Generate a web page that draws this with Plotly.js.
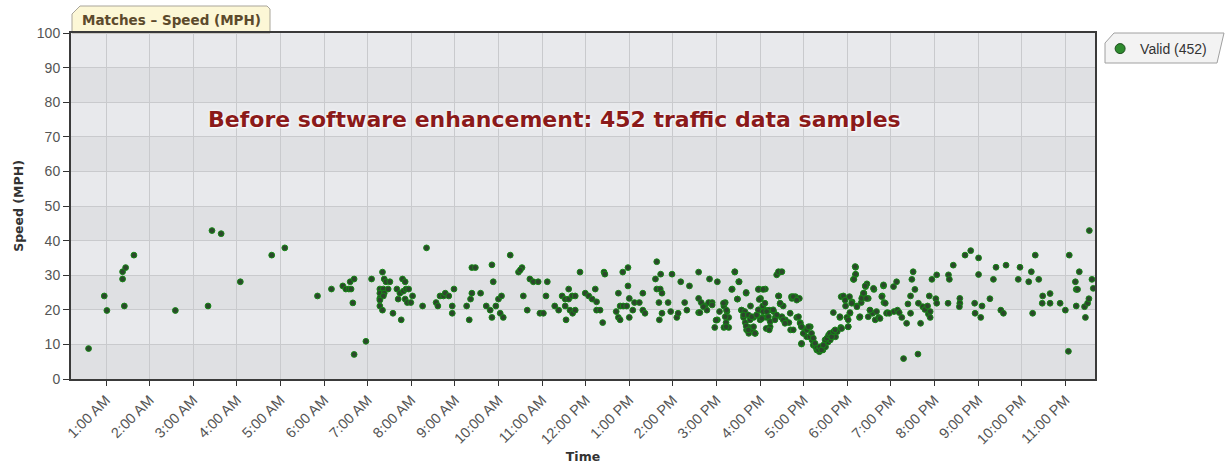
<!DOCTYPE html>
<html>
<head>
<meta charset="utf-8">
<script src="https://cdn.plot.ly/plotly-3.0.1.min.js"></script>
<style>html,body{margin:0;padding:0;background:#fff;}#chart{width:1225px;height:468px;}</style>
</head>
<body>
<div id="chart"></div>
<script>
// ---- Data (time in decimal hours, speed in MPH) ----
const earlySamples = [[0.60,8.8],[0.96,24],[1.02,19.8],[1.38,28.9],[1.38,31],[1.45,32.2],[1.42,21.1],[1.64,35.8],[2.59,19.8],[3.34,21.1],[3.43,42.9],[3.64,42],[4.08,28.1],[4.80,35.8],[5.10,37.9]];

const morningSamples = [[5.85,24],[6.17,26],[6.43,26.9],[6.50,26],[6.57,26],[6.62,26],[6.60,28.1],[6.69,28.9],[6.66,22],[6.69,7.1],[6.96,10.9],[7.09,28.9],[7.34,30.9],[7.38,28.9],[7.42,28.1],[7.51,28.1],[7.28,26],[7.36,26],[7.47,26],[7.28,24.8],[7.38,24.8],[7.28,23.3],[7.36,24],[7.28,21.1],[7.34,19.9],[7.58,19],[7.67,26],[7.74,24.8],[7.82,25.4],[7.88,26],[7.94,26],[7.80,28.9],[7.86,28.1],[7.70,23.1],[7.86,23.1],[7.91,22.1],[7.99,22.1],[8.03,24],[7.77,17.1],[8.26,21.1],[8.35,37.9],[8.57,22.1],[8.61,21.1],[8.66,24],[8.74,24],[8.78,24.8],[8.86,24],[8.94,21.1],[8.94,19],[8.98,26],[9.27,21.1],[9.33,17.1],[9.36,23.1],[9.39,24.8],[9.59,24.8],[9.39,32.2],[9.47,32.2],[9.85,33],[9.88,28.1],[9.72,21.1],[9.81,19.9],[9.85,17.8],[9.94,21.1],[10.0,23.1],[10.07,24],[10.04,19],[10.11,17.8],[10.27,35.8],[10.46,30.9],[10.54,32.2],[10.50,31.5],[10.57,24],[10.66,19.9],[10.72,28.9],[10.80,28.1],[10.91,28.1],[11.12,28.1],[10.95,19],[11.03,19],[11.09,24],[11.29,21.1],[11.38,19.9],[11.46,24],[11.53,23.1],[11.61,26],[11.61,23.1],[11.69,24],[11.76,24],[11.53,21.1],[11.64,19.9],[11.70,19],[11.76,19.9],[11.55,17.1],[11.87,30.9],[11.99,24.8],[12.07,24],[12.15,23.1],[12.22,26],[12.25,22.3],[12.25,19.9],[7.28,22.8]];

const afternoonSamples = [[12.33,19.9],[12.39,16.3],[12.42,30.9],[12.44,30.3],[12.70,19.5],[12.75,17.8],[12.79,17.1],[12.75,24.8],[12.79,21.1],[12.86,21.1],[12.94,21.1],[12.85,30.9],[12.97,32.2],[12.97,26.9],[13.0,23.3],[13.0,17.8],[13.08,19.9],[13.12,22.1],[13.23,22.1],[13.31,24.8],[13.31,19.9],[13.36,19],[13.63,33.9],[13.60,28.9],[13.72,30.3],[13.63,26],[13.71,26],[13.75,24.8],[13.68,22.1],[13.75,19],[13.69,17.1],[13.89,22.1],[13.95,19.5],[13.98,30.3],[14.09,17.8],[14.12,19],[14.18,28.1],[14.27,22.1],[14.32,19.9],[14.38,26.9],[14.59,30.9],[14.59,23.3],[14.59,19.2],[14.65,22.1],[14.74,21.1],[14.78,19.9],[14.82,22.1],[14.90,22.1],[14.84,28.9],[15.02,28.1],[14.96,14.9],[15.02,17.1],[15.07,19.5],[15.17,21.1],[15.20,22.1],[15.24,19.5],[15.28,17.8],[15.22,16.3],[15.17,14.9],[15.28,14.9],[14.70,20.9],[14.90,21.4],[15.16,21.9],[15.23,19.9],[15.20,18.0],[15.22,15.1],[14.99,17.0],[14.62,19.2]];

const peakSamples = [[15.36,26.0],[15.42,30.9],[15.51,28.1],[15.48,23.1],[15.57,19.9],[15.62,17.8],[15.68,24.8],[15.66,16.3],[15.69,14.2],[15.74,13.2],[15.75,14.9],[15.82,14.2],[15.89,13.2],[15.85,17.8],[15.92,18.5],[15.97,26.0],[15.97,19.9],[16.05,17.8],[16.12,26.0],[16.01,23.3],[16.06,21.1],[16.14,19.9],[16.15,17.8],[16.21,19.9],[16.23,15.1],[16.31,19.5],[16.35,17.8],[16.38,30.1],[16.46,30.9],[16.43,24.0],[16.46,21.7],[16.53,21.1],[16.49,17.8],[16.58,17.1],[16.66,16.3],[16.73,23.3],[16.81,23.8],[16.90,23.3],[16.70,14.2],[16.76,14.2],[16.84,17.8],[16.92,16.3],[16.95,15.1],[16.95,10.1],[17.0,13.2],[17.04,14.2],[17.07,12.2],[17.15,15.1],[17.19,11.3],[17.22,9.8],[17.27,9.3],[17.30,8.4],[17.36,7.9],[17.44,8.4],[17.50,9.3],[17.56,10.7],[17.61,11.3],[17.64,12.2],[17.68,13.0],[17.73,12.2],[17.77,13.7],[17.85,14.9],[17.83,17.8],[17.86,23.8],[17.96,21.1],[17.99,17.8],[18.02,15.1],[18.06,19.0],[18.05,23.8],[18.11,22.3],[18.14,28.8],[18.19,30.2],[18.19,32.3],[18.22,21.1],[18.28,17.8],[18.32,22.1],[18.35,23.8],[18.38,24.8],[18.42,26.7],[18.45,27.5],[18.48,23.3],[18.52,19.9],[18.58,19.0],[18.61,25.9],[18.64,17.1],[18.72,17.8],[18.80,24.0],[18.84,22.1],[18.83,26.9],[18.92,19.2]];

const peakSamplesB = [[15.42,31.0],[15.52,28.1],[15.35,25.9],[15.48,23.1],[15.68,25.0],[15.78,21.1],[15.58,19.9],[15.65,19.5],[15.62,18.5],[15.73,18.5],[15.77,17.1],[15.68,15.3],[15.73,14.2],[15.85,15.1],[15.88,13.2],[15.81,18.0],[15.92,18.5],[16.0,17.1],[15.96,20.0],[16.07,19.5],[16.04,17.5],[15.98,23.0],[15.96,25.9],[16.07,25.9],[16.11,21.9],[16.15,19.5],[16.19,18.0],[16.23,16.6],[16.14,14.6],[16.21,14.2],[16.30,20.0],[16.38,18.5],[16.34,17.1],[16.42,24.0],[16.46,21.9],[16.50,18.0],[16.53,17.1],[16.57,16.1],[16.69,19.0],[16.72,23.8],[16.76,23.8],[16.84,22.8],[16.88,18.0],[16.92,16.1],[16.95,15.1],[16.99,13.2],[17.07,14.2],[17.11,15.1],[17.14,12.2],[17.18,13.2],[16.95,10.3],[17.22,11.8],[17.26,10.3],[17.30,8.9],[17.34,8.4],[17.37,9.3],[17.41,8.4],[17.45,9.8],[17.49,11.3],[17.53,11.8],[17.57,12.7],[17.60,13.2],[17.64,12.2],[17.68,13.7],[17.72,14.2],[17.68,19.2],[17.83,18.0],[17.87,14.6],[17.91,24.0],[17.95,22.8],[18.02,17.1],[18.02,15.1],[18.06,19.2],[18.10,21.9],[18.18,32.5],[18.19,30.3],[18.15,28.8],[18.22,20.9],[18.29,18.0],[18.33,23.3],[18.37,24.8],[18.41,26.9],[18.44,23.3],[18.48,18.0],[18.52,19.9],[18.60,26.2],[18.67,19.5],[18.75,17.5],[18.79,23.8],[18.83,27.2],[18.87,21.9],[18.90,19.0],[16.42,31.0],[16.50,31.0]];

const nightSamples = [[18.96,19.0],[19.06,26.7],[19.13,28.1],[19.07,19.5],[19.15,19.9],[19.19,19.2],[19.25,17.8],[19.36,16.1],[19.45,19.0],[19.39,21.7],[19.45,24.0],[19.51,31.0],[19.48,28.8],[19.55,25.9],[19.63,21.9],[19.68,16.1],[19.73,20.9],[19.78,20.1],[19.84,21.1],[19.86,18.8],[19.90,19.5],[19.90,17.8],[19.88,24.0],[19.94,28.8],[20.05,30.1],[20.03,23.2],[20.05,21.9],[20.32,30.1],[20.34,28.8],[20.31,21.9],[20.43,32.9],[20.58,23.3],[20.58,21.9],[20.57,20.9],[20.70,35.8],[20.83,37.1],[21.01,35.0],[21.01,30.2],[20.92,21.9],[20.93,19.0],[21.06,17.8],[21.09,21.1],[21.27,23.2],[21.35,28.8],[21.41,32.3],[21.52,19.9],[21.58,19.0],[21.64,32.9],[21.92,28.8],[21.96,32.3],[22.16,28.1],[22.22,31.0],[22.31,35.8],[22.39,28.8],[22.25,19.0],[22.48,24.0],[22.47,21.9],[22.65,24.7],[22.65,21.9],[22.88,21.9],[23.0,19.9],[23.09,35.8],[23.07,8.0],[23.32,31.0],[23.23,28.1],[23.25,25.9],[23.28,25.9],[23.25,21.1],[23.46,17.8],[23.44,20.9],[23.51,21.9],[23.54,23.2],[23.61,28.8],[23.64,26.2],[23.55,42.9],[19.29,5.9],[19.62,7.2]];

const tickHours = [1,2,3,4,5,6,7,8,9,10,11,12,13,14,15,16,17,18,19,20,21,22,23];
const tickLabels = ["1:00 AM","2:00 AM","3:00 AM","4:00 AM","5:00 AM","6:00 AM","7:00 AM","8:00 AM","9:00 AM","10:00 AM","11:00 AM","12:00 PM","1:00 PM","2:00 PM","3:00 PM","4:00 PM","5:00 PM","6:00 PM","7:00 PM","8:00 PM","9:00 PM","10:00 PM","11:00 PM"];
const seriesName = "Valid (452)";
const chartTitle = "Matches \u2013 Speed (MPH)";
const noteText = "Before software enhancement: 452 traffic data samples";

// ---- Build ----
const all = [].concat(earlySamples, morningSamples, afternoonSamples, peakSamples, peakSamplesB, nightSamples);
const xs = all.map(p => p[0]);
const ys = all.map(p => p[1]);

const L = 71, R = 1095, T = 33, B = 379;
const pxX = x => (x - L) / (R - L);
const pxY = y => (B - y) / (B - T);

const shapes = [];
for (let v = 0; v < 100; v += 20) {
  shapes.push({type:'rect', xref:'paper', yref:'y', x0:0, x1:1, y0:v, y1:v+10, fillcolor:'#dfe0e3', line:{width:0}, layer:'below'});
}
// title tab
shapes.push({type:'path', xref:'paper', yref:'paper', layer:'below',
  path:`M ${pxX(72)},${pxY(33)} L ${pxX(72)},${pxY(14)} L ${pxX(80)},${pxY(6)} L ${pxX(267)},${pxY(6)} L ${pxX(270)},${pxY(9)} L ${pxX(270)},${pxY(33)} Z`,
  fillcolor:'#fcf7d6', line:{color:'#a9a59a', width:1}});
// legend box
shapes.push({type:'path', xref:'paper', yref:'paper', layer:'below',
  path:`M ${pxX(1105)},${pxY(63)} L ${pxX(1105)},${pxY(43)} L ${pxX(1114)},${pxY(33)} L ${pxX(1224)},${pxY(33)} L ${pxX(1217)},${pxY(63)} Z`,
  fillcolor:'#f3f3f3', line:{color:'#a0a0a0', width:1}});

const traces = [
  {type:'scatter', mode:'markers', x:xs, y:ys, showlegend:false, hoverinfo:'x+y',
   marker:{size:5.8, color:'#2c472c', line:{color:'#168816', width:1}}},
  {type:'scatter', mode:'markers', x:[null], y:[null], name:seriesName, showlegend:true,
   marker:{size:10, color:'#2e8b2e', line:{color:'#1f4f1f', width:1}}}
];

const layout = {
  width:1225, height:468,
  margin:{l:L, r:1225-R, t:T, b:468-B, pad:0},
  paper_bgcolor:'#ffffff', plot_bgcolor:'#e8e9ec',
  font:{family:'Liberation Sans, Arial, sans-serif', color:'#555'},
  xaxis:{range:[0.197, 23.68], tickmode:'array', tickvals:tickHours, ticktext:tickLabels,
    tickangle:-45, tickfont:{size:14.5, color:'#555'}, ticks:'outside', ticklen:5, tickcolor:'#333',
    showgrid:true, gridcolor:'#c9cacd', gridwidth:1, zeroline:false,
    showline:true, linecolor:'#3a3a3a', linewidth:2, mirror:true,
    title:{text:'Time', font:{family:'DejaVu Sans', size:12.5, color:'#333', weight:'bold'}, standoff:6}},
  yaxis:{range:[0,100], tickmode:'linear', tick0:0, dtick:10, tickfont:{size:14, color:'#555'},
    ticks:'outside', ticklen:6, tickcolor:'#333',
    showgrid:true, gridcolor:'#c9cacd', gridwidth:1, zeroline:false,
    showline:true, linecolor:'#3a3a3a', linewidth:2, mirror:true,
    title:{text:'Speed (MPH)', font:{family:'DejaVu Sans', size:12.5, color:'#333', weight:'bold'}, standoff:10}},
  legend:{x:1.005, y:1, xanchor:'left', yanchor:'top', bgcolor:'rgba(0,0,0,0)', borderwidth:0,
    font:{size:14, color:'#333', family:'Liberation Sans, Arial, sans-serif'}},
  shapes:shapes,
  annotations:[
    {xref:'paper', yref:'paper', x:pxX(171), y:pxY(20), xanchor:'center', yanchor:'middle', text:chartTitle, showarrow:false,
     font:{family:'DejaVu Sans', size:13.5, color:'#5c4a2c', weight:'bold'}},
    {xref:'paper', yref:'paper', x:pxX(554), y:pxY(120), xanchor:'center', yanchor:'middle', text:noteText, showarrow:false,
     font:{family:'DejaVu Sans', size:22, color:'#8b1a1a', weight:'bold', shadow:'0px 0px 3px #ffffff, 1px 1px 2px #ffffff'}}
  ]
};

Plotly.newPlot('chart', traces, layout, {displayModeBar:false, staticPlot:true});
</script>
</body>
</html>
